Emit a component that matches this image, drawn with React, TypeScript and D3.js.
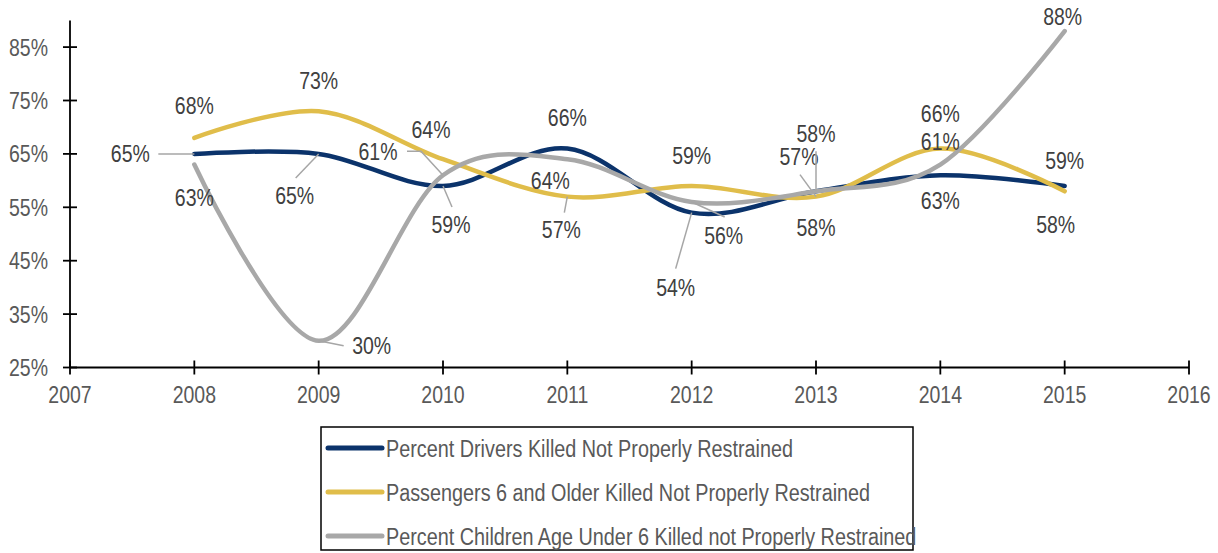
import { useEffect, useRef } from 'react';
import * as d3 from 'd3';

const W = 1218, H = 553;
const X0 = 70, X1 = 1189, Y0 = 367.5, Y1 = 20.4;

const YEARS = [2008, 2009, 2010, 2011, 2012, 2013, 2014, 2015];
const DRIVERS = [65, 65, 59, 66, 54, 58, 61, 59];
const PASSENGERS = [68, 73, 64, 57, 59, 57, 66, 58];
const CHILDREN = [63, 30, 61, 64, 56, 58, 63, 88];
const SERIES_NAMES = [
  'Percent Drivers Killed Not Properly Restrained',
  'Passengers 6 and Older Killed Not Properly Restrained',
  'Percent Children Age Under 6 Killed not Properly Restrained',
];
const COLORS = ['#0b336b', '#e0bd4a', '#a8a8a8'];
const Y_TICKS = [25, 35, 45, 55, 65, 75, 85];
const X_TICKS = [2007, 2008, 2009, 2010, 2011, 2012, 2013, 2014, 2015, 2016];

// label placement relative to each point: [dx, dy, leader polyline (relative) or null]
type Lab = [number, number, number[][] | null];
const LABELS: Lab[][] = [
  [
    [-64, 0, [[0, 0], [-36, 0]]],
    [-24, 42, [[0, 0], [-23, 24]]],
    [8, 39, [[0, 0], [9, 21]]],
    [0, -31, null],
    [-16, 75, [[0, 0], [-16, 56]]],
    [0, 36, null],
    [0, -34, null],
    [0, -25, null],
  ],
  [
    [0, -32, null],
    [0, -31, null],
    [-12, -30, null],
    [-6, 33, [[0, 0], [-3, 16]]],
    [0, -30, null],
    [-17, -40, [[0, 0], [-16, -22]]],
    [0, -35, null],
    [-9, 33, null],
  ],
  [
    [0, 33, null],
    [53, 5, [[0, 0], [25, 5]]],
    [-65, -24, [[0, 0], [-22, -24], [-36, -24]]],
    [-17, 21, null],
    [32, 34, [[0, 0], [33, 15]]],
    [0, -58, [[0, 0], [0, -40]]],
    [0, 36, null],
    [-2, -14, null],
  ],
];

const FONT = '"Liberation Sans", Arial, sans-serif';

export default function App() {
  const svgRef = useRef<SVGSVGElement>(null);

  useEffect(() => {
    document.body.style.margin = '0';
    const svg = d3.select(svgRef.current);
    svg.selectAll('*').remove();

    const x = d3.scaleLinear().domain([2007, 2016]).range([X0, X1]);
    const y = d3.scaleLinear().domain([25, 90]).range([Y0, Y1]);

    const addText = (parent: any, tx: number, ty: number, str: string, anchor: string, fill: string, size = 19) => {
      parent
        .append('g')
        .attr('transform', `translate(${tx},${ty}) scale(1,1.23)`)
        .append('text')
        .attr('text-anchor', anchor)
        .attr('dy', '0.35em')
        .attr('font-family', FONT)
        .attr('font-size', size)
        .attr('fill', fill)
        .text(str);
    };

    // Axes
    const ax = svg.append('g').attr('stroke', '#000').attr('stroke-width', 1.8);
    ax.append('line').attr('x1', X0).attr('x2', X0).attr('y1', Y1).attr('y2', Y0);
    ax.append('line').attr('x1', X0).attr('x2', X1).attr('y1', Y0).attr('y2', Y0);
    Y_TICKS.forEach((t) => {
      ax.append('line').attr('x1', X0 - 7).attr('x2', X0 + 7).attr('y1', y(t)).attr('y2', y(t));
      addText(svg, 48, y(t), `${t}%`, 'end', '#595959', 19.5);
    });
    X_TICKS.forEach((t) => {
      ax.append('line').attr('x1', x(t)).attr('x2', x(t)).attr('y1', Y0 - 7).attr('y2', Y0 + 7);
      addText(svg, x(t), 395, String(t), 'middle', '#595959', 19.5);
    });

    const series = [DRIVERS, PASSENGERS, CHILDREN];
    const line = d3
      .line<number>()
      .x((_, i) => x(YEARS[i]))
      .y((d) => y(d))
      .curve(d3.curveCardinal.tension(0));

    series.forEach((vals, si) => {
      svg
        .append('path')
        .attr('d', line(vals))
        .attr('fill', 'none')
        .attr('stroke', COLORS[si])
        .attr('stroke-width', 4.5)
        .attr('stroke-linecap', 'round');
    });

    // Leader lines and data labels
    series.forEach((vals, si) => {
      vals.forEach((v, i) => {
        const px = x(YEARS[i]);
        const py = y(v);
        const [dx, dy, leader] = LABELS[si][i];
        if (leader) {
          svg
            .append('polyline')
            .attr('points', leader.map(([lx, ly]) => `${px + lx},${py + ly}`).join(' '))
            .attr('fill', 'none')
            .attr('stroke', '#a6a6a6')
            .attr('stroke-width', 1.5);
        }
        addText(svg, px + dx, py + dy, `${v}%`, 'middle', '#404040', 19.5);
      });
    });

    // Legend
    const lg = svg.append('g');
    lg.append('rect')
      .attr('x', 321)
      .attr('y', 427)
      .attr('width', 592)
      .attr('height', 123)
      .attr('fill', '#fff')
      .attr('stroke', '#000')
      .attr('stroke-width', 1.5);
    SERIES_NAMES.forEach((name, i) => {
      const ly = 448 + i * 44;
      lg.append('line')
        .attr('x1', 328)
        .attr('x2', 382)
        .attr('y1', ly)
        .attr('y2', ly)
        .attr('stroke', COLORS[i])
        .attr('stroke-width', 5)
        .attr('stroke-linecap', 'round');
      addText(lg, 386, ly, name, 'start', '#595959', 19.8);
    });
  }, []);

  return <svg ref={svgRef} width={W} height={H} style={{ display: 'block', background: '#fff' }} />;
}
